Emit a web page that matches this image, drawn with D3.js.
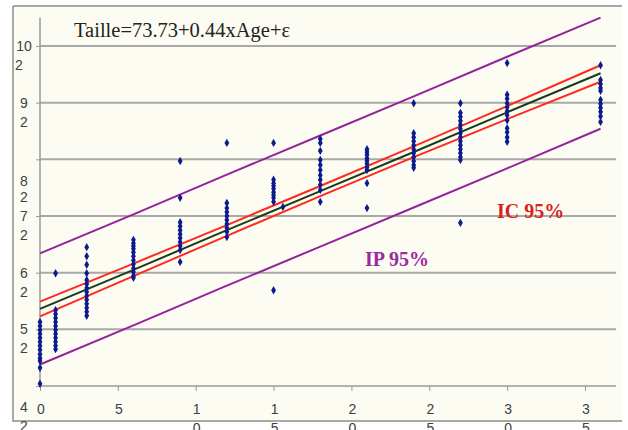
<!DOCTYPE html>
<html>
<head>
<meta charset="utf-8">
<script src="https://cdn.jsdelivr.net/npm/d3@7"></script>
<style>
  body { margin: 0; background: #fff; }
  svg { display: block; }
</style>
</head>
<body>
<div id="chart"></div>
<script>
// ages (x) of each column of points, and the heights read in each column
var ages = [0, 1, 3, 6, 9, 12, 15, 15.6, 18, 21, 24, 27, 30, 36];
var tailles = [
  [53.3, 52.6, 51.9, 51.2, 50.5, 49.8, 49.1, 48.4, 47.6, 46.9, 46.4, 45.2, 42.4],
  [61.9, 55.4, 54.7, 54.0, 53.3, 52.6, 51.9, 51.2, 50.5, 49.8, 49.1, 48.5],
  [66.5, 64.9, 63.4, 61.9, 60.7, 60.0, 59.3, 58.6, 57.9, 57.2, 56.5, 55.8, 55.1, 54.4],
  [67.8, 67.2, 66.7, 66.2, 65.6, 64.9, 64.2, 63.5, 62.8, 62.1, 61.4, 61.1],
  [81.7, 75.2, 70.9, 70.2, 69.5, 68.8, 68.1, 67.4, 66.7, 66.0, 63.9],
  [84.9, 74.3, 73.4, 72.7, 72.0, 71.3, 70.6, 69.9, 69.2, 68.3],
  [84.9, 78.4, 77.8, 77.3, 76.8, 76.2, 75.7, 75.2, 74.5, 58.9],
  [73.6],
  [85.6, 84.9, 83.5, 81.9, 81.0, 80.1, 79.2, 78.4, 77.5, 76.6, 74.5],
  [83.8, 83.3, 82.8, 82.2, 81.7, 81.2, 80.6, 80.1, 77.8, 73.4],
  [91.9, 86.6, 85.9, 85.2, 84.5, 83.8, 83.1, 82.4, 81.7, 81.0, 80.5],
  [91.9, 90.2, 89.5, 88.8, 88.1, 87.4, 86.6, 85.9, 85.2, 84.5, 83.8, 83.1, 82.4, 81.9, 70.8],
  [99.0, 93.4, 92.7, 91.9, 91.2, 90.5, 89.8, 88.9, 87.5, 86.8, 85.9, 85.1],
  [98.6, 96.0, 95.3, 94.6, 94.1, 92.5, 91.8, 91.1, 90.4, 89.6, 88.6]
];

// regression line and bands, read at these ages
var lineAges = [0, 6, 12, 18, 24, 30, 36];
var ajuste   = [55.6, 62.5, 69.5, 76.4, 83.3, 90.3, 97.2];
var icHaut   = [56.9, 63.6, 70.4, 77.3, 84.3, 91.4, 98.6];
var icBas    = [54.3, 61.4, 68.5, 75.5, 82.4, 89.1, 95.7];
var ipHaut   = [65.4, 72.3, 79.3, 86.2, 93.1, 100.1, 107.0];
var ipBas    = [45.8, 52.7, 59.7, 66.6, 73.5, 80.4, 87.4];

var xTicks = [0, 5, 10, 15, 20, 25, 30, 35];
var yTicks = [42, 52, 62, 72, 82, 92, 102];

var equation = "Taille=73.73+0.44xAge+\u03b5";

var width = 628, height = 430;

var svg = d3.select("#chart").append("svg")
    .attr("width", width)
    .attr("height", height);

// frame
svg.append("rect")
    .attr("x", 13).attr("y", 6)
    .attr("width", 609).attr("height", 415)
    .attr("fill", "#fcfcf3");
svg.append("path")
    .attr("d", "M13,6H622M13,6V421H622")
    .attr("fill", "none")
    .attr("stroke", "#8c8c8c")
    .attr("stroke-width", 1.5);

var x = d3.scaleLinear().domain([0, 37]).range([40, 40 + 37 * 15.571]);
var y = d3.scaleLinear().domain([42, 107]).range([386, 17.67]);

// grid
svg.append("g").selectAll("line")
    .data(yTicks.slice(1))
    .join("line")
    .attr("x1", x(0)).attr("x2", x(37))
    .attr("y1", d => y(d)).attr("y2", d => y(d))
    .attr("stroke", "#a8a8a8")
    .attr("stroke-width", 2);

// axes
var xAxis = svg.append("g")
    .attr("transform", "translate(0," + y(42) + ")")
    .call(d3.axisBottom(x).tickValues(xTicks).tickSize(5).tickFormat(""));
xAxis.select(".domain").attr("stroke", "#9a9a9a").attr("stroke-width", 1.5)
    .attr("d", "M" + x(0) + ",0H" + x(37));
xAxis.selectAll(".tick line").attr("stroke", "#9a9a9a");

var yAxis = svg.append("g")
    .attr("transform", "translate(" + x(0) + ",0)")
    .call(d3.axisLeft(y).tickValues(yTicks).tickSize(4).tickFormat(""));
yAxis.select(".domain").attr("stroke", "#9a9a9a").attr("stroke-width", 1.5)
    .attr("d", "M0," + y(107) + "V" + y(42));
yAxis.selectAll(".tick line").attr("stroke", "#9a9a9a");

// wrapped tick labels, like the original
var labelFont = "'Liberation Sans', Arial, sans-serif";
var yShift = {42: 21, 82: 22};
var yGap = {82: 16};

var yLab = svg.append("g")
    .attr("font-family", labelFont)
    .attr("font-size", 14)
    .attr("fill", "#404040")
    .attr("text-anchor", "middle");
yTicks.forEach(function(v) {
  var s = String(v);
  var cy = y(v) + (yShift[v] || 0);
  yLab.append("text").attr("x", 24).attr("y", cy).attr("dy", "0.35em")
      .text(s.slice(0, -1));
  yLab.append("text")
      .attr("x", v >= 100 ? 19 : 24)
      .attr("y", cy + (yGap[v] || 19))
      .attr("dy", "0.35em")
      .text(s.slice(-1));
});

var xLab = svg.append("g")
    .attr("font-family", labelFont)
    .attr("font-size", 14)
    .attr("fill", "#404040")
    .attr("text-anchor", "middle");
xTicks.forEach(function(v) {
  var s = String(v);
  xLab.append("text").attr("x", x(v) + 1).attr("y", 409).attr("dy", "0.35em").text(s.slice(0, 1));
  if (s.length > 1)
    xLab.append("text").attr("x", x(v) + 1).attr("y", 428).attr("dy", "0.35em").text(s.slice(1));
});

// lines
function band(vals) {
  return lineAges.map(function(a, i) { return [a, vals[i]]; });
}
var line = d3.line().x(d => x(d[0])).y(d => y(d[1]));

[[ipHaut, "#93229b"], [ipBas, "#93229b"], [icHaut, "#ff2a1f"], [icBas, "#ff2a1f"], [ajuste, "#183c18"]]
  .forEach(function(l) {
    svg.append("path")
        .datum(band(l[0]))
        .attr("d", line)
        .attr("fill", "none")
        .attr("stroke", l[1])
        .attr("stroke-width", 2);
  });

// points
var pts = [];
ages.forEach(function(a, i) {
  tailles[i].forEach(function(t) { pts.push([a, t]); });
});
svg.append("g").selectAll("path")
    .data(pts)
    .join("path")
    .attr("transform", d => "translate(" + x(d[0]) + "," + y(d[1]) + ")")
    .attr("d", d3.symbol().type(d3.symbolDiamond).size(20))
    .attr("fill", "#0b1a8c");

// texts
var serif = "'Liberation Serif', 'Times New Roman', serif";
svg.append("text")
    .attr("x", 74).attr("y", 37)
    .attr("font-family", serif)
    .attr("font-size", 20.5)
    .attr("fill", "#222")
    .text(equation);

svg.append("text")
    .attr("x", 497).attr("y", 218)
    .attr("font-family", serif)
    .attr("font-size", 20)
    .attr("font-weight", "bold")
    .attr("fill", "#d8231c")
    .text("IC 95%");

svg.append("text")
    .attr("x", 365).attr("y", 266)
    .attr("font-family", serif)
    .attr("font-size", 20)
    .attr("font-weight", "bold")
    .attr("fill", "#9a2aa0")
    .text("IP 95%");
</script>
</body>
</html>
